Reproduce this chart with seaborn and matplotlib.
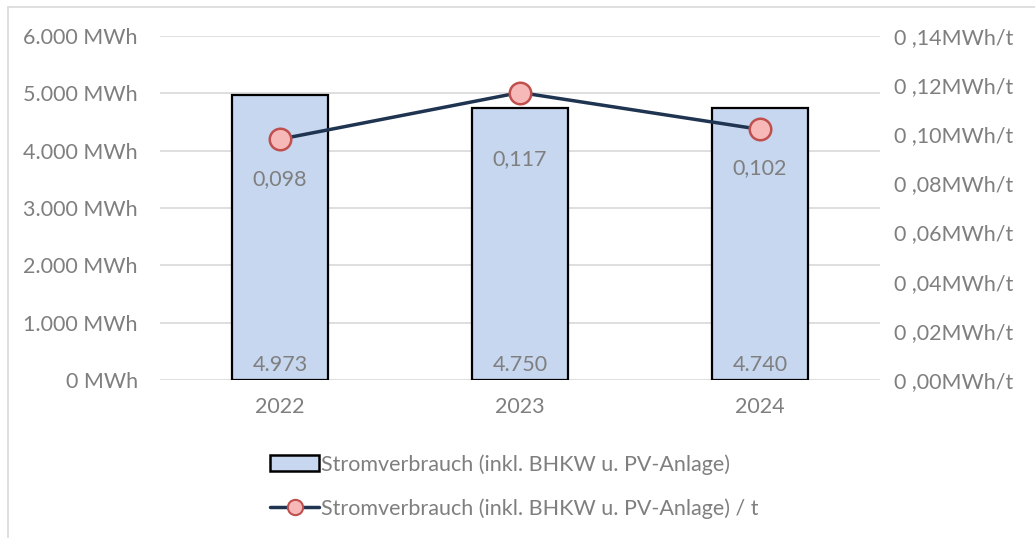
import matplotlib
matplotlib.use("Agg")
import matplotlib.pyplot as plt
import seaborn as sns
from matplotlib.patches import Patch
from matplotlib.lines import Line2D
from matplotlib.ticker import FuncFormatter, MultipleLocator

# ---- data ----
years = ["2022", "2023", "2024"]
consumption = [4973, 4750, 4740]          # MWh
per_ton = [0.098, 0.117, 0.102]           # MWh/t
bar_labels = ["4.973", "4.750", "4.740"]
line_labels = ["0,098", "0,117", "0,102"]
legend_bar = "Stromverbrauch (inkl. BHKW u. PV-Anlage)"
legend_line = "Stromverbrauch (inkl. BHKW u. PV-Anlage) / t"

# ---- style ----
sns.set_theme(style="white")
plt.rcParams["font.family"] = ["Lato", "DejaVu Sans"]
txt = "#7f7f7f"
grid = "#d9d9d9"
bar_fill = "#c6d7ef"
navy = "#1f3450"
pink = "#f7b8b8"
red = "#c0504d"
fs = 15.5

fig = plt.figure(figsize=(10.35, 5.38), dpi=100)
ax = fig.add_axes([160 / 1035, 1 - 380 / 538, 720 / 1035, 344 / 538])

sns.barplot(x=years, y=consumption, width=0.4, color=bar_fill,
            edgecolor="black", linewidth=1.6, saturation=1, ax=ax, zorder=2)
ax.set_ylim(0, 6000)
ax.set_xlim(-0.5, 2.5)
ax.yaxis.set_major_locator(MultipleLocator(1000))
ax.yaxis.set_major_formatter(FuncFormatter(
    lambda v, p: "0 MWh" if v == 0 else f"{int(v):,} MWh".replace(",", ".")))
ax.grid(axis="y", color=grid, linewidth=1.2, zorder=0)
ax.set_axisbelow(True)
for s in ax.spines.values():
    s.set_visible(False)
ax.tick_params(axis="both", length=0, labelsize=fs, labelcolor=txt)
ax.tick_params(axis="y", pad=16)
ax.tick_params(axis="x", pad=12)
ax.set_xlabel("")
ax.set_ylabel("")

for i, lab in enumerate(bar_labels):
    ax.annotate(lab, (i, 0), xytext=(0, 15), textcoords="offset pixels",
                ha="center", va="center", fontsize=fs, color=txt, zorder=5)

ax2 = ax.twinx()
sns.pointplot(x=years, y=per_ton, color=navy, errorbar=None, ax=ax2,
              linewidth=2.5, marker="o", markersize=15.5,
              markerfacecolor=pink, markeredgecolor=red, markeredgewidth=1.8)
ax2.set_ylim(0, 0.14)
ax2.set_xlim(-0.5, 2.5)
ax2.yaxis.set_major_locator(MultipleLocator(0.02))
ax2.yaxis.set_major_formatter(FuncFormatter(
    lambda v, p: "0 ," + f"{v:.2f}".split(".")[1] + "MWh/t"))
for s in ax2.spines.values():
    s.set_visible(False)
ax2.tick_params(axis="y", length=0, labelsize=fs, labelcolor=txt, pad=10)
ax2.set_xlabel("")
ax2.set_ylabel("")
ax2.grid(False)

line_offsets = [-40, -67, -39]
for i, lab in enumerate(line_labels):
    ax2.annotate(lab, (i, per_ton[i]), xytext=(0, line_offsets[i]),
                 textcoords="offset pixels", ha="center", va="center",
                 fontsize=fs, color=txt)

handles = [
    Patch(facecolor=bar_fill, edgecolor="black", linewidth=1.8),
    Line2D([0], [0], color=navy, linewidth=2.5, marker="o", markersize=11,
           markerfacecolor=pink, markeredgecolor=red, markeredgewidth=1.5),
]
leg = fig.legend(handles, [legend_bar, legend_line], loc="center",
                 bbox_to_anchor=(0.497, 0.096), frameon=False, fontsize=fs,
                 labelspacing=1.1, handlelength=2.3, handletextpad=0.1,
                 labelcolor=txt)

# chart border (left and top visible)
fig.add_artist(Line2D([8 / 1035, 8 / 1035], [0, 1 - 7 / 538],
                      transform=fig.transFigure, color=grid, linewidth=1.2))
fig.add_artist(Line2D([8 / 1035, 1], [1 - 7 / 538, 1 - 7 / 538],
                      transform=fig.transFigure, color=grid, linewidth=1.2))

fig.savefig("out.png", dpi=100)
